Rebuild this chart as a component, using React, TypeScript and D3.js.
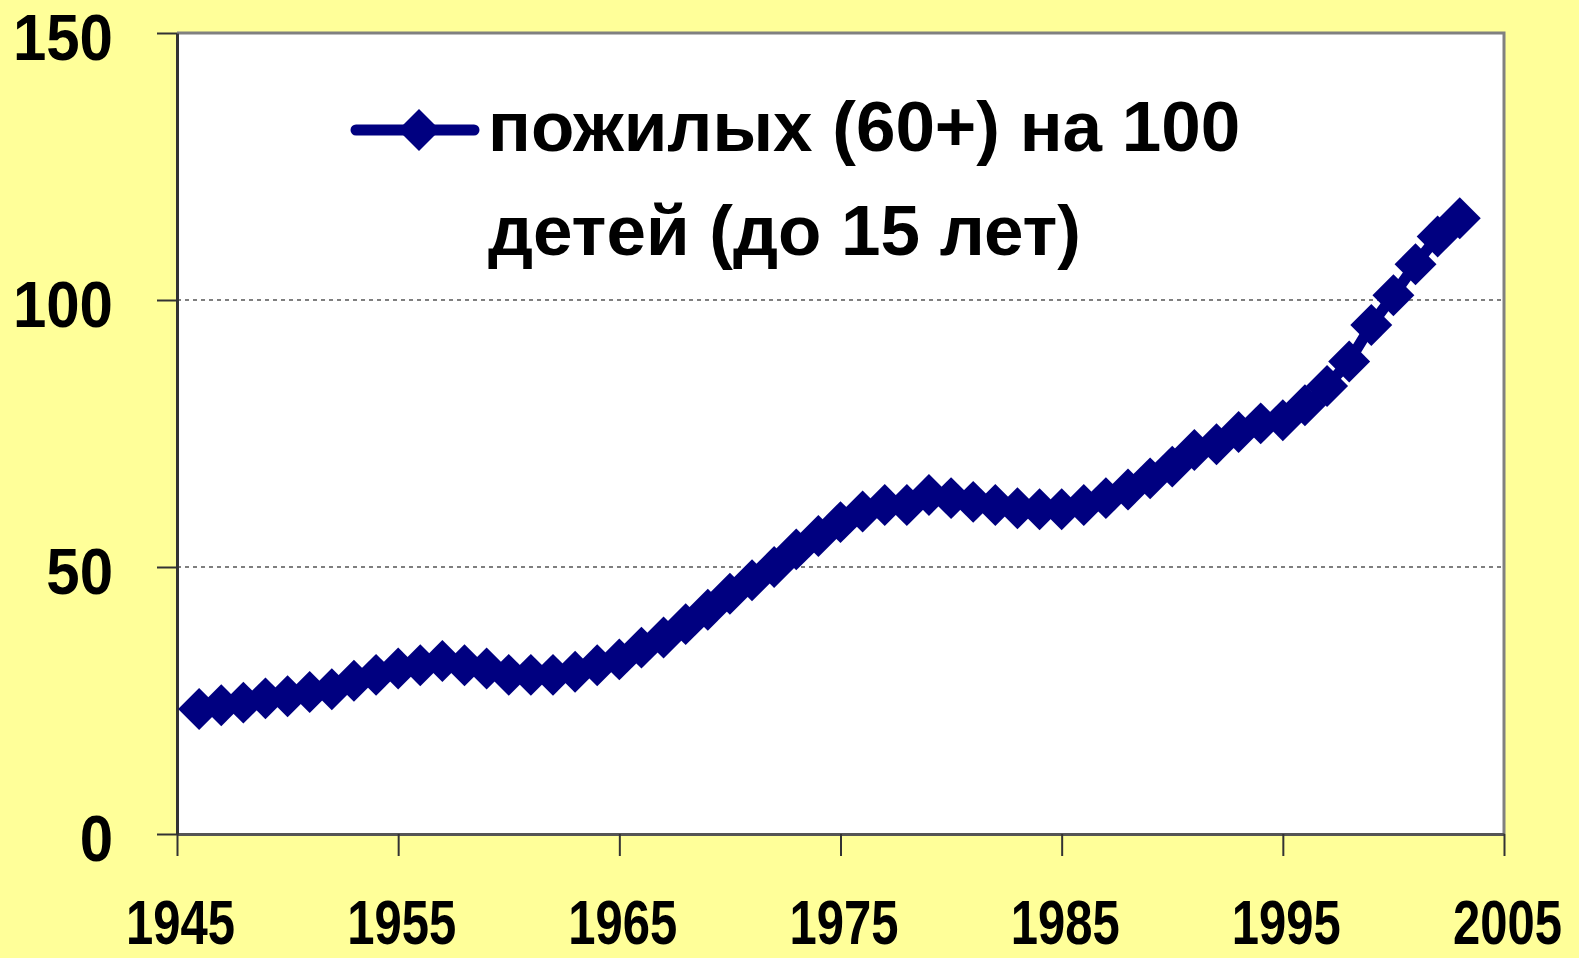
import React, { useEffect, useRef } from 'react'
import * as d3 from 'd3'

const width = 1579
const height = 958
const plot = { left: 177, right: 1504, top: 33, bottom: 834 }

// years 1946..2003, one point each
const years = [
  1946, 1947, 1948, 1949, 1950, 1951, 1952, 1953, 1954, 1955,
  1956, 1957, 1958, 1959, 1960, 1961, 1962, 1963, 1964, 1965,
  1966, 1967, 1968, 1969, 1970, 1971, 1972, 1973, 1974, 1975,
  1976, 1977, 1978, 1979, 1980, 1981, 1982, 1983, 1984, 1985,
  1986, 1987, 1988, 1989, 1990, 1991, 1992, 1993, 1994, 1995,
  1996, 1997, 1998, 1999, 2000, 2001, 2002, 2003,
]
// пожилых (60+) на 100 детей (до 15 лет)
const ratio = [
  23.4, 24.1, 24.6, 25.4, 25.8, 26.6, 27.1, 28.7, 29.8, 31.0,
  31.6, 32.4, 31.6, 31.0, 29.8, 29.8, 29.8, 30.4, 31.6, 32.7,
  34.9, 36.8, 39.3, 42.0, 45.0, 47.5, 50.0, 53.3, 55.8, 58.4,
  60.4, 61.6, 61.6, 63.5, 62.9, 62.2, 61.6, 61.0, 60.8, 60.8,
  61.6, 62.9, 64.5, 66.6, 68.8, 71.9, 73.0, 75.3, 76.9, 77.5,
  80.3, 83.9, 88.5, 95.3, 100.9, 106.7, 111.9, 115.3,
]
const xTicks = [1945, 1955, 1965, 1975, 1985, 1995, 2005]
const yTicks = [0, 50, 100, 150]
const gridValues = [50, 100]
const legendLines = ['пожилых (60+) на 100', 'детей (до 15 лет)']

const navy = '#000080'
const font = '"Liberation Sans", Arial, sans-serif'

const xScale = d3.scaleLinear().domain([1945, 2005]).range([plot.left, plot.right])
const yScale = d3.scaleLinear().domain([0, 150]).range([plot.bottom, plot.top])

const App = () => {
  const xAxis = useRef<SVGGElement>(null)
  const yAxis = useRef<SVGGElement>(null)

  useEffect(() => {
    const axisX = d3.axisBottom(xScale).tickValues(xTicks).tickSize(22).tickSizeOuter(0).tickFormat(d3.format('d'))
    const axisY = d3.axisLeft(yScale).tickValues(yTicks).tickSize(20).tickSizeOuter(0)

    d3.select(xAxis.current).call(axisX)
      .call(g => g.selectAll('line').attr('stroke', '#333').attr('stroke-width', 2))
      .call(g => g.select('.domain').attr('stroke', '#555').attr('stroke-width', 3))
      .call(g => g.selectAll('text')
        .attr('y', 0).attr('dy', 0)
        .attr('transform', 'translate(3,110) scale(1,1.3)')
        .attr('fill', '#000')
        .style('font-family', font).style('font-weight', 'bold').style('font-size', '49px'))

    d3.select(yAxis.current).call(axisY)
      .call(g => g.selectAll('line').attr('stroke', '#333').attr('stroke-width', 2))
      .call(g => g.select('.domain').attr('stroke', '#333').attr('stroke-width', 3))
      .call(g => g.selectAll('text')
        .attr('x', 0).attr('dy', 0)
        .attr('transform', 'translate(-64,26) scale(1,1.08)')
        .attr('fill', '#000')
        .style('font-family', font).style('font-weight', 'bold').style('font-size', '60px'))
  }, [])

  const points = years.map((y, i) => ({ year: y, value: ratio[i] }))
  const line = d3.line<{ year: number; value: number }>()
    .x(d => xScale(d.year))
    .y(d => yScale(d.value))
  const diamond = d3.symbol().type(d3.symbolSquare).size(880)()

  return (
    <svg width={width} height={height} style={{ position: 'absolute', left: 0, top: 0 }}>
      <rect width={width} height={height} fill='#ffff99' />
      <rect x={plot.left} y={plot.top} width={plot.right - plot.left} height={plot.bottom - plot.top} fill='#fff' />
      <path d={`M${plot.left},${plot.top}H${plot.right}V${plot.bottom}`} fill='none' stroke='#808080' strokeWidth='3' />
      {gridValues.map(v => (
        <line key={v} x1={plot.left} x2={plot.right} y1={yScale(v)} y2={yScale(v)}
          stroke='#555' strokeWidth='1.5' strokeDasharray='4 4' />
      ))}
      <g ref={xAxis} transform={`translate(0, ${plot.bottom})`}></g>
      <g ref={yAxis} transform={`translate(${plot.left}, 0)`}></g>

      <path d={line(points) ?? ''} fill='none' stroke={navy} strokeWidth='11' strokeLinejoin='round' />
      {points.map(d => (
        <path key={d.year} d={diamond ?? ''} fill={navy}
          transform={`translate(${xScale(d.year)},${yScale(d.value)}) rotate(45)`} />
      ))}

      <g>
        <line x1={356} x2={474} y1={130} y2={130} stroke={navy} strokeWidth='11' strokeLinecap='round' />
        <path d={diamond ?? ''} fill={navy} transform='translate(419,130) rotate(45)' />
        {legendLines.map((t, i) => (
          <text key={i} x={488} y={151 + i * 104} fill='#000'
            style={{ fontFamily: font, fontWeight: 'bold', fontSize: '71px' }}>{t}</text>
        ))}
      </g>
    </svg>
  )
}

export default App
